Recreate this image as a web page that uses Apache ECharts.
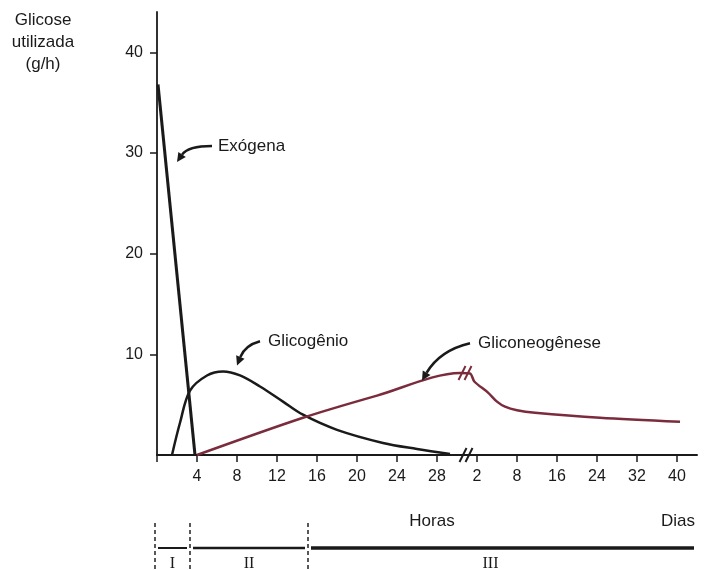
<!DOCTYPE html>
<html><head><meta charset="utf-8">
<script src="https://cdn.jsdelivr.net/npm/echarts@6/dist/echarts.min.js"></script>
<style>html,body{margin:0;padding:0;background:#fff}#c{width:705px;height:570px}</style>
</head><body><div id="c"></div>
<script>
// ---- data ----
const hourTicks = [0, 4, 8, 12, 16, 20, 24, 28];
const dayTicks = [2, 8, 16, 24, 32, 40];
const yTicks = [10, 20, 30, 40];
// [hour, g/h]
const exogena = [[0.1, 36.8], [3.8, 0]];
const glicogenio = [[1.5, 0], [2.3, 3.2], [3.3, 6.4], [5, 7.9], [6.6, 8.3], [8.3, 7.9], [10.3, 6.8], [12.6, 5.3], [14.6, 4.0], [18, 2.5], [22.6, 1.2], [26, 0.6], [29.3, 0.1]];
const gliconeoHoras = [[4, 0], [14.6, 3.7], [22, 5.9], [30.3, 8.15]];
// [day, g/h]
const gliconeoDias = [[0.95, 8.1], [1.6, 7.3], [3.65, 6.2], [5, 5.3], [6.2, 4.8], [8, 4.45], [11.6, 4.2], [24.6, 3.7], [40.6, 3.3]];
const phaseLabels = ['I', 'II', 'III'];
const phaseBounds = [-0.2, 3.3, 15.1, 54];

// ---- axis mapping: hours on a linear part, days on tick-spaced part ----
const DAY_POS0 = 32, DAY_STEP = 4;
function dayToPos(d) {
  if (d <= dayTicks[0]) return DAY_POS0 - (dayTicks[0] - d) / ((dayTicks[1] - dayTicks[0]) / DAY_STEP);
  for (let i = 0; i < dayTicks.length - 1; i++) {
    if (d <= dayTicks[i + 1]) return DAY_POS0 + DAY_STEP * (i + (d - dayTicks[i]) / (dayTicks[i + 1] - dayTicks[i]));
  }
  const n = dayTicks.length - 1;
  return DAY_POS0 + DAY_STEP * (n + (d - dayTicks[n]) / (dayTicks[n] - dayTicks[n - 1]));
}
const labelMap = {};
hourTicks.forEach(h => { if (h > 0) labelMap[h] = String(h); });
dayTicks.forEach(d => { labelMap[dayToPos(d)] = String(d); });
const tickVals = hourTicks.concat(dayTicks.map(dayToPos));
const labelVals = tickVals.filter(v => v > 0);

const gliconeo = gliconeoHoras.concat(gliconeoDias.map(p => [dayToPos(p[0]), p[1]]));

const INK = '#1a1a1a', RED = '#7a2c3c';
const breaks = [
  { at: [30.9, 0], color: INK },
  { at: [30.8, 8.15], color: RED }
];
const annotations = [
  { text: 'Exógena', textAt: [6.1, 30.7], tail: [5.5, 30.7], ctrl: [3.1, 30.7], head: [2.0, 29.1] },
  { text: 'Glicogênio', textAt: [11.1, 11.3], tail: [10.3, 11.3], ctrl: [8.8, 10.9], head: [8.0, 8.9] },
  { text: 'Gliconeogênese', textAt: [32.1, 11.1], tail: [31.3, 11.1], ctrl: [28.3, 10.4], head: [26.5, 7.4] }
];

const FONT = '"Liberation Sans", Arial, sans-serif';
const chart = echarts.init(document.getElementById('c'));
const option = {
  animation: false,
  backgroundColor: '#fff',
  grid: { left: 157, right: 8, top: 12, bottom: 115 },
  xAxis: {
    type: 'value', min: 0, max: 54,
    axisLine: { show: true, onZero: false, lineStyle: { color: INK, width: 2 } },
    axisTick: { show: true, customValues: tickVals, length: 7, lineStyle: { color: INK, width: 1.5 } },
    axisLabel: { customValues: labelVals, margin: 14, fontSize: 16, fontFamily: FONT, color: INK,
      formatter: v => { for (const k in labelMap) { if (Math.abs(+k - v) < 1e-6) return labelMap[k]; } return ''; } },
    splitLine: { show: false }
  },
  yAxis: {
    type: 'value', min: 0, max: 44,
    axisLine: { show: true, lineStyle: { color: INK, width: 1.8 } },
    axisTick: { show: true, customValues: yTicks, length: 7, lineStyle: { color: INK, width: 1.5 } },
    axisLabel: { customValues: yTicks, margin: 14, fontSize: 16, fontFamily: FONT, color: INK },
    splitLine: { show: false }
  },
  series: [
    { type: 'line', name: 'Exógena', data: exogena, symbol: 'none', lineStyle: { color: INK, width: 3 }, z: 3 },
    { type: 'line', name: 'Glicogênio', data: glicogenio, symbol: 'none', smooth: 0.35, lineStyle: { color: INK, width: 2.5 }, z: 3 },
    { type: 'line', name: 'Gliconeogênese', data: gliconeo, symbol: 'none', smooth: 0.3, lineStyle: { color: RED, width: 2.5 }, z: 3 },
    {
      type: 'custom', name: 'breaks', data: breaks.map(b => b.at), z: 4, clip: false,
      renderItem: (params, api) => {
        const b = breaks[params.dataIndex];
        const p = api.coord(b.at);
        const kids = [];
        [-3, 3].forEach(off => {
          kids.push({ type: 'line', shape: { x1: p[0] + off - 3.5, y1: p[1] + 7, x2: p[0] + off + 3.5, y2: p[1] - 7 },
            style: { stroke: b.color, lineWidth: 2 } });
        });
        return { type: 'group', children: kids };
      }
    },
    {
      type: 'custom', name: 'annotations', data: annotations.map(a => a.textAt), z: 5, clip: false,
      renderItem: (params, api) => {
        const a = annotations[params.dataIndex];
        const t = api.coord(a.tail), c = api.coord(a.ctrl), h = api.coord(a.head), tx = api.coord(a.textAt);
        const dx = h[0] - c[0], dy = h[1] - c[1], L = Math.hypot(dx, dy), ux = dx / L, uy = dy / L;
        const hl = 9, hw = 4.5;
        const base = [h[0] - ux * hl, h[1] - uy * hl];
        return { type: 'group', children: [
          { type: 'text', style: { text: a.text, x: tx[0], y: tx[1], fontSize: 17, fontFamily: FONT, fill: INK, align: 'left', verticalAlign: 'middle' } },
          { type: 'bezierCurve', shape: { x1: t[0], y1: t[1], x2: base[0], y2: base[1], cpx1: c[0], cpy1: c[1] },
            style: { stroke: INK, lineWidth: 2.5, fill: null } },
          { type: 'polygon', shape: { points: [h, [base[0] - uy * hw, base[1] + ux * hw], [base[0] + uy * hw, base[1] - ux * hw]] },
            style: { fill: INK } }
        ] };
      }
    }
  ]
};
chart.setOption(option);

// ---- y title and phase bar ----
const px = v => chart.convertToPixel({ xAxisIndex: 0 }, v);
const g = [];
['Glicose', 'utilizada', '(g/h)'].forEach((s, i) => {
  g.push({ type: 'text', style: { text: s, x: 43, y: 20 + 22 * i, fontSize: 17, fontFamily: FONT, fill: INK, align: 'center', verticalAlign: 'middle' } });
});
g.push({ type: 'text', style: { text: 'Horas', x: 432, y: 521, fontSize: 17, fontFamily: FONT, fill: INK, align: 'center', verticalAlign: 'middle' } });
g.push({ type: 'text', style: { text: 'Dias', x: 695, y: 521, fontSize: 17, fontFamily: FONT, fill: INK, align: 'right', verticalAlign: 'middle' } });
const BAR_Y = 548;
const labelShift = [0, 0, -12];
for (let i = 0; i < phaseLabels.length; i++) {
  const x0 = px(phaseBounds[i]), x1 = px(phaseBounds[i + 1]);
  g.push({ type: 'line', shape: { x1: x0, y1: 523, x2: x0, y2: 570 }, style: { stroke: '#222', lineWidth: 1.5, lineDash: [4, 3] } });
  g.push({ type: 'line', shape: { x1: x0 + 3, y1: BAR_Y, x2: Math.min(x1 - 3, 697), y2: BAR_Y }, style: { stroke: INK, lineWidth: i === 2 ? 3.5 : (i === 1 ? 2.5 : 2) } });
  g.push({ type: 'text', style: { text: phaseLabels[i], x: (x0 + Math.min(x1, 697)) / 2 + labelShift[i], y: 556, fontSize: 16, fontFamily: '"Liberation Serif", serif', fill: INK, align: 'center', verticalAlign: 'top' } });
}
chart.setOption({ graphic: g });
</script>
</body></html>
